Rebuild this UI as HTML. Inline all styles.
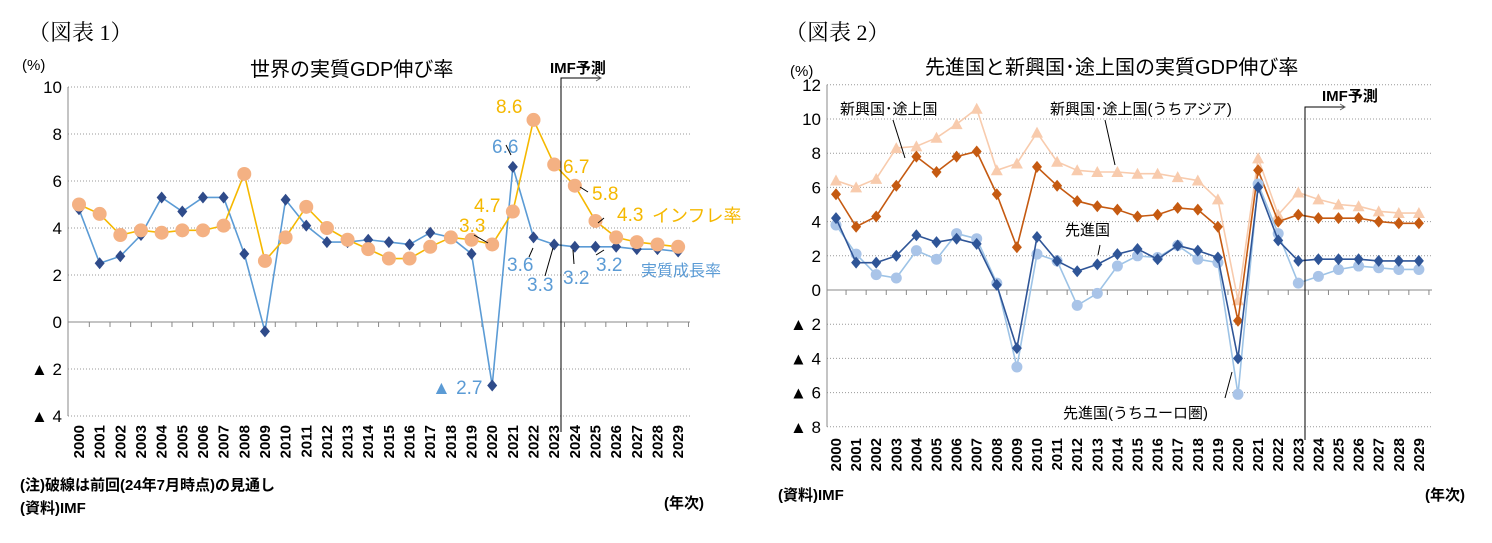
<!DOCTYPE html>
<html><head><meta charset="utf-8">
<style>
body{margin:0;background:#fff;}
svg{display:block;font-family:"Liberation Sans","Noto Sans CJK JP",sans-serif;}
</style></head>
<body>
<svg id="s" width="1492" height="543" viewBox="0 0 1492 543" xmlns="http://www.w3.org/2000/svg">
<text x="28" y="40" font-size="22" font-family="Liberation Serif,Noto Serif CJK SC,serif">（図表 1）</text>
<text x="785" y="40" font-size="22" font-family="Liberation Serif,Noto Serif CJK SC,serif">（図表 2）</text>
<text x="250" y="76" font-size="20">世界の実質GDP伸び率</text>
<text x="925" y="74" font-size="20">先進国と新興国･途上国の実質GDP伸び率</text>
<text x="22" y="70" font-size="15">(%)</text>
<text x="790" y="76" font-size="15">(%)</text>
<text x="20" y="490" font-size="15" font-weight="bold">(注)破線は前回(24年7月時点)の見通し</text>
<text x="20" y="513" font-size="15" font-weight="bold">(資料)IMF</text>
<text x="664" y="508" font-size="15" font-weight="bold">(年次)</text>
<text x="778" y="500" font-size="15" font-weight="bold">(資料)IMF</text>
<text x="1425" y="500" font-size="15" font-weight="bold">(年次)</text>
<g id="c1"></g><g id="c2"></g>
</svg>
<script>
const years = [];
for (let yv = 2000; yv <= 2029; yv++) years.push(String(yv));
const gdpWorld = [4.8,2.5,2.8,3.7,5.3,4.7,5.3,5.3,2.9,-0.4,5.2,4.1,3.4,3.4,3.5,3.4,3.3,3.8,3.6,2.9,-2.7,6.6,3.6,3.3,3.2,3.2,3.2,3.1,3.1,3.0];
const inflation = [5.0,4.6,3.7,3.9,3.8,3.9,3.9,4.1,6.3,2.6,3.6,4.9,4.0,3.5,3.1,2.7,2.7,3.2,3.6,3.5,3.3,4.7,8.6,6.7,5.8,4.3,3.6,3.4,3.3,3.2];
const ticks1 = [10,8,6,4,2,0,-2,-4];
const emAsia = [6.4,6.0,6.5,8.3,8.4,8.9,9.7,10.6,7.0,7.4,9.2,7.5,7.0,6.9,6.9,6.8,6.8,6.6,6.4,5.3,-0.6,7.7,4.4,5.7,5.3,5.0,4.9,4.6,4.5,4.5];
const emerging = [5.6,3.7,4.3,6.1,7.8,6.9,7.8,8.1,5.6,2.5,7.2,6.1,5.2,4.9,4.7,4.3,4.4,4.8,4.7,3.7,-1.8,7.0,4.0,4.4,4.2,4.2,4.2,4.0,3.9,3.9];
const advanced = [4.2,1.6,1.6,2.0,3.2,2.8,3.0,2.7,0.3,-3.4,3.1,1.7,1.1,1.5,2.1,2.4,1.8,2.6,2.3,1.9,-4.0,6.0,2.9,1.7,1.8,1.8,1.8,1.7,1.7,1.7];
const euro = [3.8,2.1,0.9,0.7,2.3,1.8,3.3,3.0,0.4,-4.5,2.1,1.7,-0.9,-0.2,1.4,2.0,1.9,2.6,1.8,1.6,-6.1,6.2,3.3,0.4,0.8,1.2,1.4,1.3,1.2,1.2];
const ticks2 = [12,10,8,6,4,2,0,-2,-4,-6,-8];

const NS = "http://www.w3.org/2000/svg";
function mk(parent, tag, attrs){const e=document.createElementNS(NS,tag);for(const k in attrs)e.setAttribute(k,attrs[k]);parent.appendChild(e);return e;}
function tickLabel(v){return v<0?"▲ "+(-v):String(v);}

function drawChart(g, cfg){
  const x = i => cfg.x0 + i*cfg.step;
  const y = v => cfg.yZero - v*cfg.unit;
  const left = cfg.axisX, right = cfg.right;
  cfg.ticks.forEach(t=>{
    if(t!==0){
      const ln = mk(g,'line',{x1:left,x2:right,y1:y(t),y2:y(t),stroke:'#999','stroke-dasharray':'1,2','stroke-width':1});
      
      
    }
    const tx = mk(g,'text',{x:left-6,y:y(t)+6,'font-size':17,'text-anchor':'end'});
    tx.textContent = tickLabel(t);
    
    
  });
  const ya = mk(g,'line',{x1:left,x2:left,y1:y(cfg.ticks[0]),y2:y(cfg.ticks[cfg.ticks.length-1]),stroke:'#888'});
  
  
  const xa = mk(g,'line',{x1:left,x2:right,y1:y(0),y2:y(0),stroke:'#888'});
  
  
  years.forEach((yr,i)=>{
    const tk = mk(g,'line',{x1:x(i)+cfg.step/2,x2:x(i)+cfg.step/2,y1:y(0),y2:y(0)+5,stroke:'#888'});
    
    
    const lb = mk(g,'text',{x:0,y:0,'font-size':15,'font-weight':'bold','text-anchor':'end',transform:`translate(${x(i)+5},${cfg.labelY}) rotate(-90)`});
    lb.textContent = yr;
    
    
  });
  cfg.series.forEach(s=>{
    const pl = mk(g,'polyline',{points:s.data.map((v,i)=>x(i)+','+y(v)).join(' '),fill:'none',stroke:s.line,'stroke-width':1.6});
    
    
    s.data.forEach((v,i)=>{
      const cx=x(i), cy=y(v); let m;
      if(s.marker==='diamond') m = mk(g,'polygon',{points:`${cx},${cy-6} ${cx+5},${cy} ${cx},${cy+6} ${cx-5},${cy}`,fill:s.mk});
      else if(s.marker==='circle') m = mk(g,'circle',{cx:cx,cy:cy,r:s.r||5.5,fill:s.mk});
      else m = mk(g,'polygon',{points:`${cx},${cy-6} ${cx+6},${cy+5} ${cx-6},${cy+5}`,fill:s.mk});
      
      
    });
  });
  const fl = mk(g,'polyline',{points:`${cfg.imfX},${cfg.imfBottom} ${cfg.imfX},${cfg.imfTop} ${cfg.imfX+40},${cfg.imfTop}`,fill:'none',stroke:'#000','stroke-width':1});
  
  
  const ah = mk(g,'polyline',{points:`${cfg.imfX+35},${cfg.imfTop-3} ${cfg.imfX+40},${cfg.imfTop} ${cfg.imfX+35},${cfg.imfTop+3}`,fill:'none',stroke:'#666'});
  
  
  const it = mk(g,'text',{x:cfg.imfLabelX,y:cfg.imfLabelY,'font-size':15,'font-weight':'bold'});
  it.textContent='IMF予測';
  
  
  return {x,y};
}

const g1 = document.getElementById('c1');
drawChart(g1,{x0:79,step:20.66,yZero:322,unit:23.5,axisX:68,right:690,ticks:ticks1,labelY:425,
  imfX:561,imfTop:78,imfBottom:432,imfLabelX:550,imfLabelY:73,
  series:[
    {name:'gdp-world',data:gdpWorld,line:'#5b9bd5',mk:'#2f4b8a',marker:'diamond'},
    {name:'inflation',data:inflation,line:'#f5b800',mk:'#f4b183',marker:'circle',r:7}
  ]});
function lab(g,txt,x,y,col,name,size){const t=mk(g,'text',{x:x,y:y,'font-size':size||19,fill:col});t.textContent=txt;}
function lead(g,x1,y1,x2,y2,name){const l=mk(g,'line',{x1:x1,y1:y1,x2:x2,y2:y2,stroke:'#000','stroke-width':1});}
const O='#f5b800', B='#5b9bd5';
lab(g1,'8.6',496,113,O,'label-infl-2022');
lab(g1,'6.7',563,173,O,'label-infl-2023');
lab(g1,'5.8',592,200,O,'label-infl-2024');
lab(g1,'4.3',617,221,O,'label-infl-2025');
lab(g1,'インフレ率',652,222,O,'legend-inflation',18);
lab(g1,'4.7',474,212,O,'label-infl-2021');
lab(g1,'3.3',459,232,O,'label-infl-2020');
lab(g1,'6.6',492,153,B,'label-gdp-2021');
lab(g1,'3.6',507,271,B,'label-gdp-2022');
lab(g1,'3.3',527,291,B,'label-gdp-2023');
lab(g1,'3.2',563,284,B,'label-gdp-2024');
lab(g1,'3.2',596,271,B,'label-gdp-2025');
lab(g1,'実質成長率',641,276,B,'legend-gdp',16);
lab(g1,'▲ 2.7',432,394,B,'label-gdp-2020');
lead(g1,474,235,488,243,'leader-infl-2020');
lead(g1,506,145,511,155,'leader-gdp-2021');
lead(g1,529,257,533,248,'leader-gdp-2022');
lead(g1,545,276,553,248,'leader-gdp-2023');
lead(g1,574,264,573,250,'leader-gdp-2024');
lead(g1,596,255,604,250,'leader-gdp-2025');
lead(g1,580,187,588,192,'leader-infl-2024');
lead(g1,604,218,598,223,'leader-infl-2025');

const g2 = document.getElementById('c2');
drawChart(g2,{x0:836,step:20.1,yZero:290,unit:17.1,axisX:827,right:1432,ticks:ticks2,labelY:438,
  imfX:1305,imfTop:107,imfBottom:440,imfLabelX:1322,imfLabelY:101,
  series:[
    {name:'emerging-asia',data:emAsia,line:'#f8cbad',mk:'#f8cbad',marker:'triangle'},
    {name:'emerging',data:emerging,line:'#c55a11',mk:'#c55a11',marker:'diamond'},
    {name:'euro-area',data:euro,line:'#9dc3e6',mk:'#a9c4e8',marker:'circle'},
    {name:'advanced',data:advanced,line:'#2f5597',mk:'#2f5597',marker:'diamond'}
  ]});
lab(g2,'新興国･途上国',840,114,'#000','label-emerging',15);
lab(g2,'新興国･途上国(うちアジア)',1050,114,'#000','label-emerging-asia',15);
lab(g2,'先進国',1065,235,'#000','label-advanced',15);
lab(g2,'先進国(うちユーロ圏)',1063,418,'#000','label-euro',15);
lead(g2,893,120,905,158,'leader-emerging');
lead(g2,1105,120,1115,165,'leader-emerging-asia');
lead(g2,1100,245,1098,255,'leader-advanced');
lead(g2,1225,398,1232,372,'leader-euro');
</script>
</body></html>
